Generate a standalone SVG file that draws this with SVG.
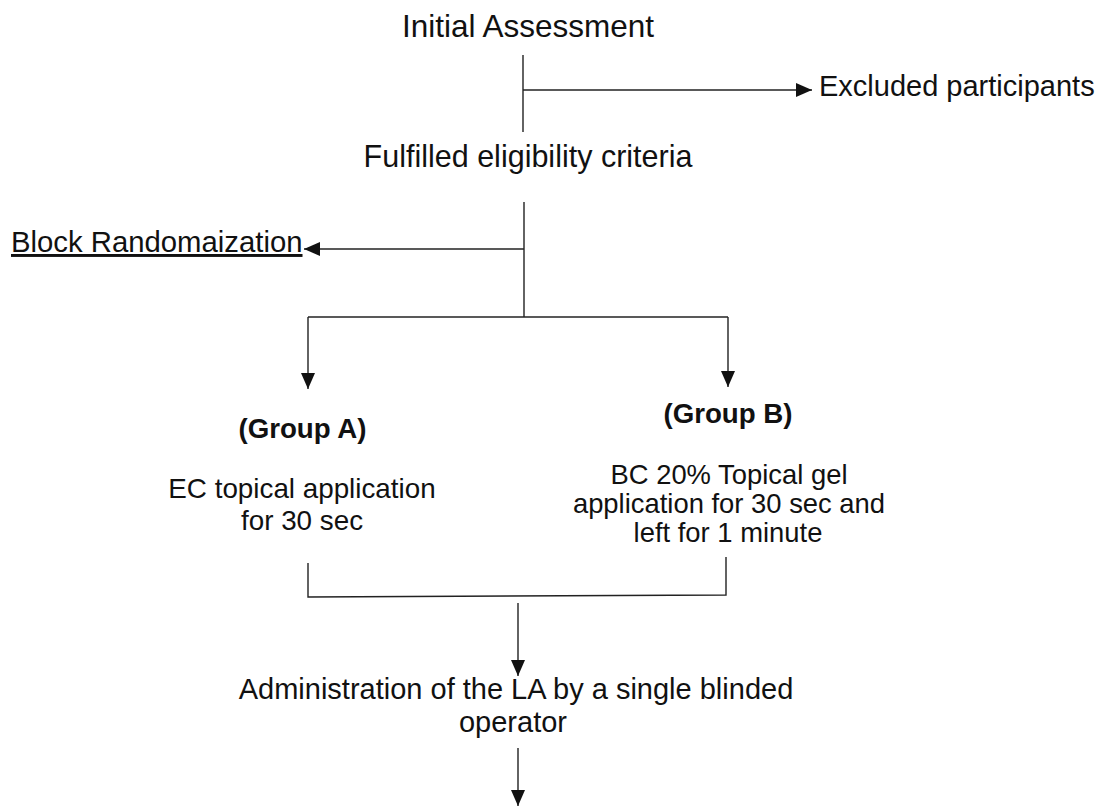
<svg xmlns="http://www.w3.org/2000/svg" width="1102" height="807" viewBox="0 0 1102 807">
  <defs>
    <style>
      text { font-family: "Liberation Sans", Arial, sans-serif; fill: #111; }
      .mid { text-anchor: middle; }
      .bold { font-weight: bold; }
      .conn { fill: none; stroke: #222; stroke-width: 1.4; }
    </style>
    <marker id="arrow" markerUnits="userSpaceOnUse" markerWidth="16" markerHeight="14" refX="16" refY="7" orient="auto">
      <path d="M0,0 L16,7 L0,14 z" fill="#111"/>
    </marker>
  </defs>
  <rect width="1102" height="807" fill="#fff"/>

  <g id="connectors">
    <line class="conn" x1="523" y1="55" x2="523" y2="132"/>
    <line class="conn" x1="523" y1="90" x2="812" y2="90" marker-end="url(#arrow)"/>
    <line class="conn" x1="524" y1="202" x2="524" y2="317"/>
    <line class="conn" x1="524" y1="249" x2="304" y2="249" marker-end="url(#arrow)"/>
    <polyline class="conn" points="308,317 728,317"/>
    <line class="conn" x1="308" y1="317" x2="308" y2="389" marker-end="url(#arrow)"/>
    <line class="conn" x1="728" y1="317" x2="728" y2="387" marker-end="url(#arrow)"/>
    <polyline class="conn" points="308,563 308,597 726,595 726,557"/>
    <line class="conn" x1="518" y1="603" x2="518" y2="676" marker-end="url(#arrow)"/>
    <line class="conn" x1="518" y1="748" x2="518" y2="806" marker-end="url(#arrow)"/>
  </g>

  <g id="initial-assessment">
    <text class="mid" x="528" y="37" font-size="31.5">Initial Assessment</text>
  </g>
  <g id="excluded">
    <text x="819" y="96" font-size="29">Excluded participants</text>
  </g>
  <g id="eligible">
    <text class="mid" x="528" y="167" font-size="30.5">Fulfilled eligibility criteria</text>
  </g>
  <g id="randomization">
    <text x="11" y="252" font-size="29.3" text-decoration="underline">Block Randomaization</text>
  </g>
  <g id="group-a">
    <text class="mid bold" x="302.5" y="438" font-size="27.7">(Group A)</text>
    <text class="mid" x="302" y="498" font-size="27.8">EC topical application</text>
    <text class="mid" x="302" y="530" font-size="27.8">for 30 sec</text>
  </g>
  <g id="group-b">
    <text class="mid bold" x="728" y="423" font-size="27.7">(Group B)</text>
    <text class="mid" x="729" y="484" font-size="27.4">BC 20% Topical gel</text>
    <text class="mid" x="729" y="513" font-size="27.4">application for 30 sec and</text>
    <text class="mid" x="728" y="542" font-size="27.4">left for 1 minute</text>
  </g>
  <g id="administration">
    <text class="mid" x="516" y="699" font-size="29">Administration of the LA by a single blinded</text>
    <text class="mid" x="513" y="732" font-size="29">operator</text>
  </g>
</svg>
